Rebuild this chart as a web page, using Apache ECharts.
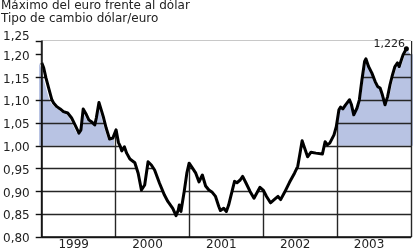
<!DOCTYPE html>
<html><head><meta charset="utf-8">
<script src="https://cdn.jsdelivr.net/npm/echarts@6/dist/echarts.min.js"></script>
<style>html,body{margin:0;padding:0;background:#fff}#c{width:414px;height:252px}</style>
</head><body><div id="c"></div>
<script>
const titleLines = ['Máximo del euro frente al dólar', 'Tipo de cambio dólar/euro'];
const years = ['1999', '2000', '2001', '2002', '2003'];
const yTickLabels = ['0,80', '0,85', '0,90', '0,95', '1,00', '1,05', '1,10', '1,15', '1,20', '1,25'];
const lastLabel = '1,226';
// months since January 1999
const months = [0,0.32,0.69,1.12,1.65,1.93,2.46,3.00,3.53,4.22,4.86,5.41,6.05,6.37,6.74,7.27,7.65,8.07,8.34,8.62,8.87,9.30,9.67,10.06,10.47,11.02,11.55,12.08,12.47,12.79,13.00,13.43,13.80,14.33,15.13,15.67,16.20,16.73,17.28,17.81,18.34,19.14,19.94,20.49,20.74,21.29,21.82,22.19,22.35,22.62,23.15,23.58,23.95,24.50,25.03,25.56,26.10,26.63,27.16,27.71,28.24,28.77,29.04,29.57,30.00,30.37,30.92,31.33,31.72,32.25,32.65,33.21,33.85,34.49,34.93,35.46,35.98,36.53,37.17,37.86,38.39,38.82,39.46,40.26,41.07,41.60,41.98,42.31,42.67,43.20,43.75,44.55,45.61,46.04,46.41,46.80,47.12,47.49,47.86,48.29,48.56,48.93,49.37,49.62,50.01,50.33,50.70,51.23,51.61,52.03,52.46,52.67,53.10,53.63,54.18,54.59,54.98,55.35,55.78,56.20,56.59,57.00,57.39,57.80,58.08,58.44,58.72,58.99,59.25];
const rates = [1.182,1.171,1.149,1.127,1.101,1.094,1.086,1.081,1.075,1.072,1.061,1.046,1.028,1.035,1.081,1.068,1.057,1.053,1.057,1.046,1.061,1.095,1.079,1.061,1.039,1.015,1.017,1.035,1.007,0.998,0.989,0.998,0.984,0.971,0.963,0.940,0.903,0.914,0.965,0.958,0.947,0.918,0.892,0.878,0.881,0.863,0.847,0.859,0.870,0.856,0.900,0.940,0.962,0.951,0.940,0.921,0.936,0.912,0.903,0.898,0.889,0.867,0.858,0.863,0.856,0.870,0.900,0.922,0.919,0.925,0.933,0.918,0.900,0.885,0.896,0.909,0.903,0.889,0.875,0.883,0.889,0.882,0.898,0.920,0.940,0.955,0.985,1.011,0.997,0.976,0.986,0.984,0.982,1.009,1.002,1.006,1.002,1.024,1.042,1.079,1.085,1.081,1.090,1.086,1.101,1.090,1.068,1.083,1.101,1.145,1.185,1.191,1.174,1.160,1.141,1.130,1.127,1.112,1.090,1.108,1.134,1.156,1.174,1.182,1.174,1.189,1.200,1.204,1.213];
const fillEndRate = 1.20; // level of the shaded band at the right border
const parity = 1.00;

const X_MIN = 0, X_MAX = 60, Y_MIN = 0.80, Y_MAX = 1.23, Y_STEP = 0.05;
const G = { left: 39, right: 1, top: 41, bottom: 15 };
const W = 414, plotW = W - G.left - G.right;
const pxPerMonth = plotW / (X_MAX - X_MIN);
const FONT = 'DejaVu Sans';
const FILL = '#b8c3e3';
const GRIDC = '#262626';

const curve = months.map((m, i) => [m, rates[i]]);
const curveExt = curve.concat([[X_MAX, fillEndRate]]);
const lineData = curve.map((p, i) => i === curve.length - 1 ? {
  value: p, symbol: 'circle', symbolSize: 5,
  itemStyle: { color: '#000' },
  label: { show: true, formatter: lastLabel, position: 'left', distance: 2, offset: [3, -5],
    fontFamily: FONT, fontSize: 11, color: '#222' }
} : { value: p, symbol: 'none' });

const hidden = { show: false };
function yHidden(gi) { return { type: 'value', gridIndex: gi, min: Y_MIN, max: Y_MAX, show: false }; }
function fillSeries(xi) {
  return { type: 'line', xAxisIndex: xi, yAxisIndex: xi, data: curveExt, symbol: 'none', clip: true,
    lineStyle: { width: 0, opacity: 0 }, areaStyle: { color: FILL, opacity: 1, origin: parity },
    z: 1, silent: true, animation: false };
}

const chart = echarts.init(document.getElementById('c'), null, { renderer: 'canvas' });
chart.setOption({
  animation: false,
  backgroundColor: '#fff',
  title: { text: titleLines.join('\n'), left: 1, top: 0, padding: 0,
    textStyle: { fontFamily: FONT, fontSize: 12, fontWeight: 'normal', color: '#222', lineHeight: 12.5 } },
  grid: [
    { left: G.left, right: G.right, top: G.top, bottom: G.bottom },
    { left: G.left, width: 12 * pxPerMonth, top: G.top, bottom: G.bottom },
    { left: G.left + 48 * pxPerMonth, right: G.right, top: G.top, bottom: G.bottom }
  ],
  xAxis: [
    { type: 'value', gridIndex: 0, min: X_MIN, max: X_MAX, interval: 6, z: 6,
      axisLine: { lineStyle: { color: '#111', width: 1.5 } }, axisTick: hidden, splitLine: hidden,
      axisLabel: { margin: 2, padding: [0, 10, 0, 0], fontFamily: FONT, fontSize: 12, color: '#222',
        formatter: v => (v % 12 === 6 ? years[(v - 6) / 12] : '') } },
    { type: 'value', gridIndex: 0, min: X_MIN, max: X_MAX, interval: 12, z: 3,
      axisLine: hidden, axisTick: hidden, axisLabel: hidden,
      splitLine: { show: true, lineStyle: { color: GRIDC, width: 1.4 } } },
    { type: 'value', gridIndex: 1, min: 0, max: 12, show: false },
    { type: 'value', gridIndex: 2, min: 48, max: 60, show: false }
  ],
  yAxis: [
    { type: 'value', gridIndex: 0, min: Y_MIN, max: Y_MAX, interval: Y_STEP, z: 6,
      axisLine: { show: true, lineStyle: { color: '#111', width: 1.5 } },
      axisTick: { show: true, length: 6, lineStyle: { color: '#111', width: 1.4 } },
      splitLine: hidden,
      axisLabel: { margin: 12, padding: [4, 0, 0, 0], fontFamily: FONT, fontSize: 12, color: '#222',
        formatter: (v, i) => i === yTickLabels.length - 1 ? '{top|' + yTickLabels[i] + '}' : yTickLabels[i],
        rich: { top: { fontFamily: FONT, fontSize: 12, color: '#222', padding: [0, 0, 12, 0] } } } },
    { type: 'value', gridIndex: 0, min: Y_MIN, max: Y_MAX, interval: Y_STEP, z: 3,
      axisLine: hidden, axisTick: hidden, axisLabel: hidden,
      splitLine: { show: true, lineStyle: { color: GRIDC, width: 1.4 } } },
    yHidden(1), yHidden(2)
  ],
  series: [
    fillSeries(2),
    fillSeries(3),
    { type: 'line', xAxisIndex: 0, yAxisIndex: 0, data: curveExt, symbol: 'none',
      lineStyle: { width: 0, opacity: 0 }, areaStyle: { color: '#fff', opacity: 1, origin: 'end' },
      z: 4, silent: true },
    { type: 'line', xAxisIndex: 0, yAxisIndex: 0, data: lineData, showSymbol: true,
      lineStyle: { color: '#000', width: 3, join: 'round' }, z: 5, silent: true }
  ]
});
</script></body></html>
